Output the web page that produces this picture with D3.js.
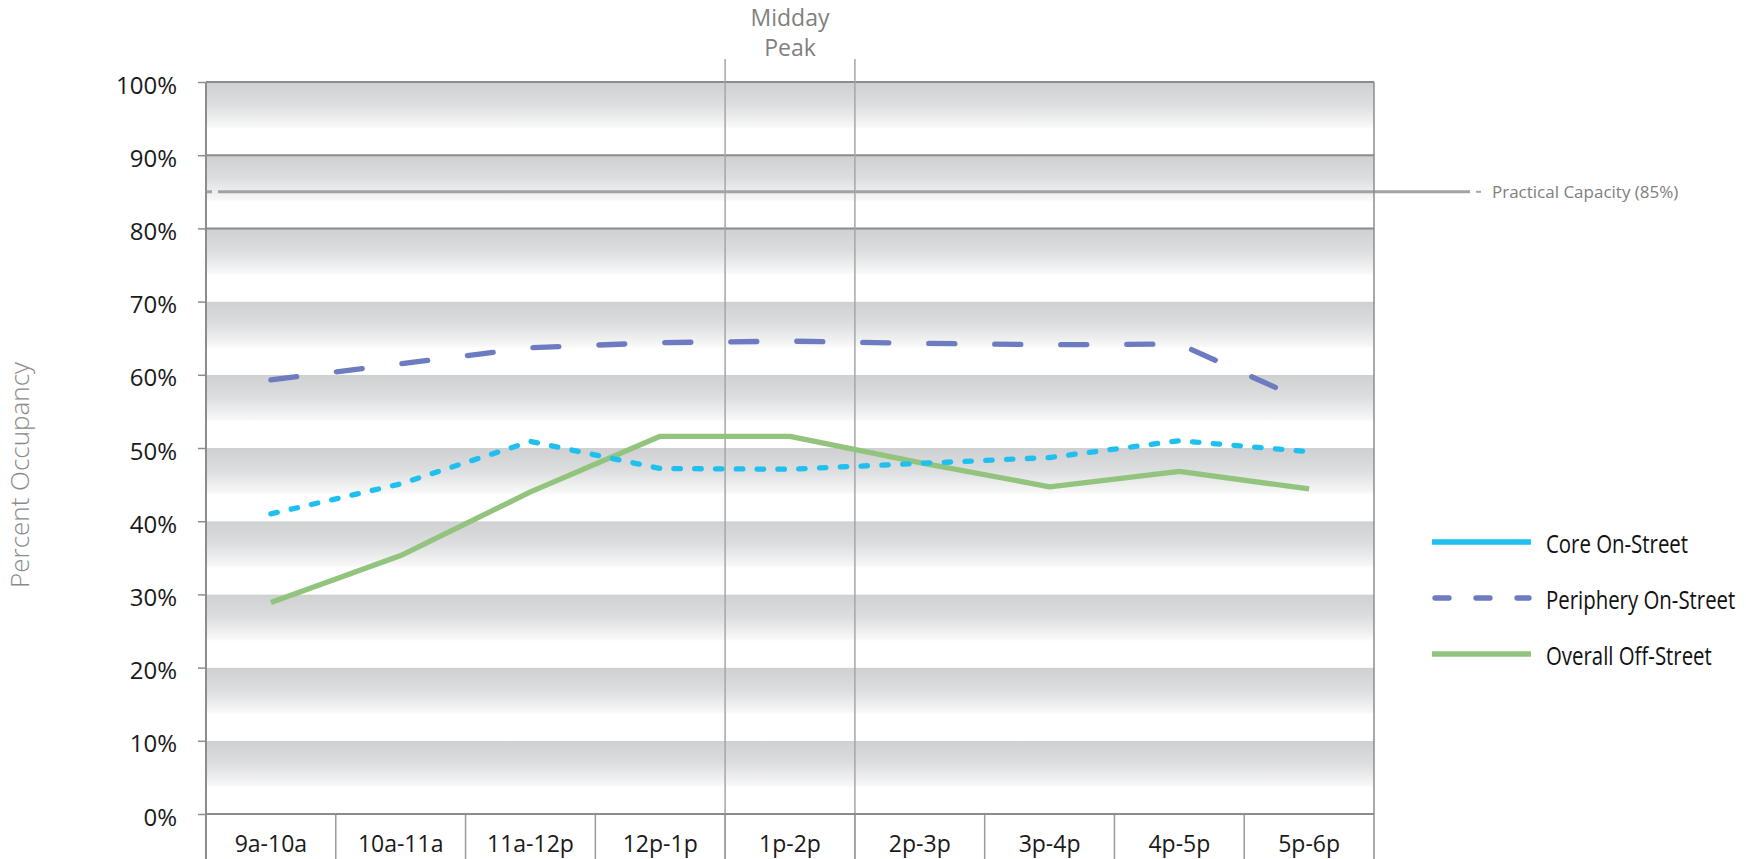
<!DOCTYPE html>
<html>
<head>
<meta charset="utf-8">
<script src="https://cdn.jsdelivr.net/npm/d3@7"></script>
<style>
  body { margin: 0; background: #fff; }
  text { font-family: "Open Sans", sans-serif; }
</style>
</head>
<body>
<svg id="occupancy-chart" width="1746" height="859"></svg>
<script>
// hourly periods and % occupancy
var periods = ["9a-10a", "10a-11a", "11a-12p", "12p-1p", "1p-2p", "2p-3p", "3p-4p", "4p-5p", "5p-6p"];
var coreOnStreet = [41.0, 45.1, 50.9, 47.2, 47.1, 47.9, 48.7, 51.0, 49.5];
var peripheryOnStreet = [59.3, 61.5, 63.7, 64.4, 64.6, 64.3, 64.1, 64.2, 56.2];
var overallOffStreet = [28.9, 35.3, 44.0, 51.6, 51.6, 48.0, 44.7, 46.8, 44.4];
var yTicks = [0, 10, 20, 30, 40, 50, 60, 70, 80, 90, 100];
var darkGridFrom = 80;
var practicalCapacity = 85;
var peakPeriod = "1p-2p";
var peakLabel = ["Midday", "Peak"];
var seriesNames = ["Core On-Street", "Periphery On-Street", "Overall Off-Street"];

function drawChart() {
  var svg = d3.select("#occupancy-chart"),
    left = 206, right = 1374, top = 82, bottom = 814,
    fullHeight = +svg.attr("height");

  var x = d3.scaleBand().domain(periods).range([left, right]),
      y = d3.scaleLinear().domain([0, 100]).range([bottom, top]),
      bw = x.bandwidth();

  var series = [
    {name: seriesNames[0], values: coreOnStreet, color: "#1fbff0", dash: "6.5,14.3", legendDash: null},
    {name: seriesNames[1], values: peripheryOnStreet, color: "#6d7bc0", dash: "26,40", legendDash: "14,27"},
    {name: seriesNames[2], values: overallOffStreet, color: "#93c47d", dash: null, legendDash: null}
  ];

  // gradient used for every 10% band
  var grad = svg.append("defs").append("linearGradient")
      .attr("id", "band-fill")
      .attr("x1", 0).attr("y1", 0).attr("x2", 0).attr("y2", 1);
  grad.append("stop").attr("offset", 0).attr("stop-color", "#cfd0d2");
  grad.append("stop").attr("offset", 0.3).attr("stop-color", "#dcdddf");
  grad.append("stop").attr("offset", 0.6).attr("stop-color", "#f7f7f7");
  grad.append("stop").attr("offset", 0.64).attr("stop-color", "#ffffff");
  grad.append("stop").attr("offset", 1).attr("stop-color", "#ffffff");

  svg.append("g").selectAll("rect")
      .data(yTicks.slice(1))
    .enter().append("rect")
      .attr("x", left)
      .attr("y", function(d) { return y(d); })
      .attr("width", right - left)
      .attr("height", function(d, i) { return y(yTicks[i]) - y(d); })
      .attr("fill", "url(#band-fill)");

  // darker gridlines only near the top
  svg.append("g").selectAll("line")
      .data(yTicks.filter(function(d) { return d >= darkGridFrom; }))
    .enter().append("line")
      .attr("x1", left).attr("x2", right)
      .attr("y1", function(d) { return y(d); })
      .attr("y2", function(d) { return y(d); })
      .attr("stroke", "#8c8c8c")
      .attr("stroke-width", 2);

  // practical capacity reference line
  var capY = y(practicalCapacity);
  svg.append("line")
      .attr("x1", left).attr("x2", 1470)
      .attr("y1", capY).attr("y2", capY)
      .attr("stroke", "#a3a3a3")
      .attr("stroke-width", 3)
      .attr("stroke-dasharray", "6,6,2000");
  svg.append("line")
      .attr("x1", 1476).attr("x2", 1481)
      .attr("y1", capY).attr("y2", capY)
      .attr("stroke", "#a3a3a3")
      .attr("stroke-width", 2);
  svg.append("text")
      .attr("x", 1492)
      .attr("y", capY + 6.5)
      .attr("font-size", 17)
      .attr("fill", "#808080")
      .text("Practical Capacity (" + practicalCapacity + "%)");

  // midday peak bracket
  var peakX = [x(peakPeriod), x(peakPeriod) + bw];
  svg.append("g").selectAll("line")
      .data(peakX)
    .enter().append("line")
      .attr("x1", function(d) { return d; })
      .attr("x2", function(d) { return d; })
      .attr("y1", 59).attr("y2", fullHeight)
      .attr("stroke", "#a6a6a6")
      .attr("stroke-width", 1.5);
  svg.append("g").selectAll("text")
      .data(peakLabel)
    .enter().append("text")
      .attr("x", x(peakPeriod) + bw / 2)
      .attr("y", function(d, i) { return 26 + i * 30; })
      .attr("text-anchor", "middle")
      .attr("font-size", 23)
      .attr("fill", "#7f7f7f")
      .text(function(d) { return d; });

  // category boxes under the plot
  svg.append("g").selectAll("line")
      .data(periods.slice(1))
    .enter().append("line")
      .attr("x1", function(d) { return x(d); })
      .attr("x2", function(d) { return x(d); })
      .attr("y1", bottom).attr("y2", fullHeight)
      .attr("stroke", "#9a9a9a")
      .attr("stroke-width", 1.5);

  // frame
  svg.append("line")
      .attr("x1", left).attr("x2", left)
      .attr("y1", top).attr("y2", fullHeight)
      .attr("stroke", "#8c8c8c").attr("stroke-width", 2);
  svg.append("line")
      .attr("x1", right).attr("x2", right)
      .attr("y1", top).attr("y2", fullHeight)
      .attr("stroke", "#8c8c8c").attr("stroke-width", 1.5);
  svg.append("line")
      .attr("x1", left).attr("x2", right)
      .attr("y1", bottom).attr("y2", bottom)
      .attr("stroke", "#8c8c8c").attr("stroke-width", 2);

  // y axis
  var yAxis = svg.append("g")
      .attr("transform", "translate(" + left + ",0)")
      .call(d3.axisLeft(y).tickValues(yTicks).tickSize(8).tickPadding(21)
        .tickFormat(function(d) { return d + "%"; }));
  yAxis.select(".domain").remove();
  yAxis.selectAll(".tick line").attr("stroke", "#8c8c8c").attr("stroke-width", 1.5);
  yAxis.selectAll(".tick text")
      .attr("dy", "0.46em")
      .attr("font-size", 24)
      .attr("font-family", "Open Sans")
      .attr("fill", "#1a1a1a");

  // x axis labels
  var xAxis = svg.append("g")
      .attr("transform", "translate(0," + bottom + ")")
      .call(d3.axisBottom(x).tickSize(0).tickPadding(21.5));
  xAxis.select(".domain").remove();
  xAxis.selectAll(".tick text")
      .attr("font-size", 23)
      .attr("font-family", "Open Sans")
      .attr("fill", "#1a1a1a");

  svg.append("text")
      .attr("transform", "translate(29,475) rotate(-90)")
      .attr("text-anchor", "middle")
      .attr("font-size", 26)
      .attr("font-weight", 300)
      .attr("fill", "#8a8a8a")
      .text("Percent Occupancy");

  // data lines
  var line = d3.line()
      .x(function(d, i) { return x(periods[i]) + bw / 2; })
      .y(function(d) { return y(d); });

  svg.append("g").selectAll("path")
      .data(series.slice().reverse())
    .enter().append("path")
      .attr("d", function(d) { return line(d.values); })
      .attr("fill", "none")
      .attr("stroke", function(d) { return d.color; })
      .attr("stroke-width", 5.3)
      .attr("stroke-linecap", function(d) { return d.dash ? "round" : "butt"; })
      .attr("stroke-linejoin", "round")
      .attr("stroke-dasharray", function(d) { return d.dash; });

  // legend (core shown solid, as in the original)
  var legend = svg.append("g").selectAll("g")
      .data(series)
    .enter().append("g")
      .attr("transform", function(d, i) { return "translate(0," + [542, 598, 654][i] + ")"; });

  legend.append("line")
      .attr("x1", function(d) { return d.legendDash ? 1435 : 1432; })
      .attr("x2", function(d) { return d.legendDash ? 1529 : 1531; })
      .attr("stroke", function(d) { return d.color; })
      .attr("stroke-width", 5.3)
      .attr("stroke-linecap", function(d) { return d.legendDash ? "round" : "butt"; })
      .attr("stroke-dasharray", function(d) { return d.legendDash; });

  legend.append("text")
      .attr("transform", "translate(1546,11) scale(0.8,1)")
      .attr("font-size", 25.5)
      .attr("fill", "#111")
      .text(function(d) { return d.name; });
}

drawChart();
</script>
</body>
</html>
